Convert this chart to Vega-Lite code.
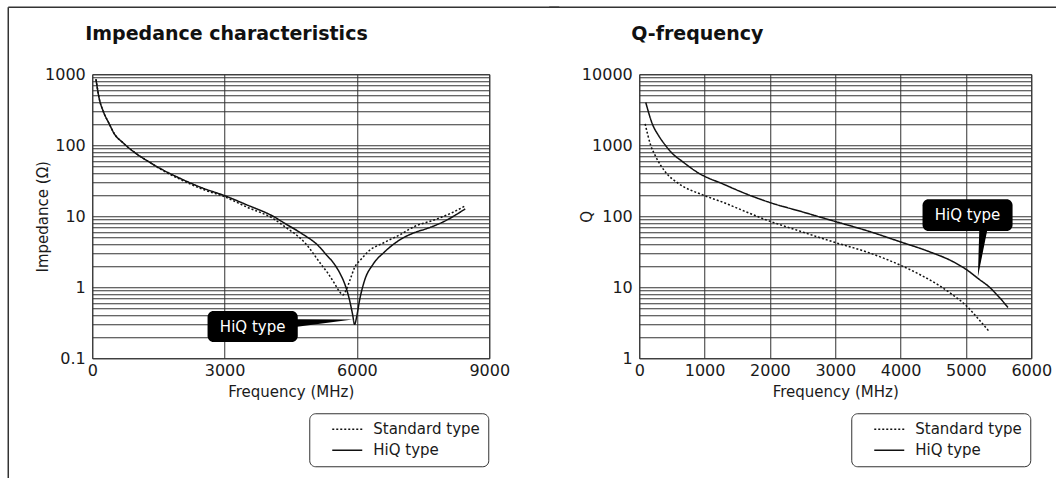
{
  "$schema": "https://vega.github.io/schema/vega-lite/v6.json",
  "background": "white",
  "padding": {"left": 6.25, "top": 5.25, "right": 0, "bottom": 0},
  "bounds": "flush",
  "spacing": 150,
  "datasets": {
    "imp": [
      {"f": 85, "z": 850, "type": "HiQ type"},
      {"f": 150, "z": 480, "type": "HiQ type"},
      {"f": 250, "z": 300, "type": "HiQ type"},
      {"f": 386, "z": 200, "type": "HiQ type"},
      {"f": 500, "z": 145, "type": "HiQ type"},
      {"f": 700, "z": 108, "type": "HiQ type"},
      {"f": 916, "z": 83, "type": "HiQ type"},
      {"f": 1333, "z": 56, "type": "HiQ type"},
      {"f": 1600, "z": 45, "type": "HiQ type"},
      {"f": 2000, "z": 34, "type": "HiQ type"},
      {"f": 2500, "z": 25, "type": "HiQ type"},
      {"f": 3000, "z": 19.5, "type": "HiQ type"},
      {"f": 3500, "z": 14.5, "type": "HiQ type"},
      {"f": 4098, "z": 10, "type": "HiQ type"},
      {"f": 4356, "z": 8.0, "type": "HiQ type"},
      {"f": 4750, "z": 5.7, "type": "HiQ type"},
      {"f": 5114, "z": 3.9, "type": "HiQ type"},
      {"f": 5300, "z": 2.9, "type": "HiQ type"},
      {"f": 5492, "z": 2.1, "type": "HiQ type"},
      {"f": 5620, "z": 1.55, "type": "HiQ type"},
      {"f": 5720, "z": 1.13, "type": "HiQ type"},
      {"f": 5833, "z": 0.66, "type": "HiQ type"},
      {"f": 5900, "z": 0.42, "type": "HiQ type"},
      {"f": 5947, "z": 0.3, "type": "HiQ type"},
      {"f": 6000, "z": 0.4, "type": "HiQ type"},
      {"f": 6061, "z": 0.66, "type": "HiQ type"},
      {"f": 6174, "z": 1.25, "type": "HiQ type"},
      {"f": 6364, "z": 2.1, "type": "HiQ type"},
      {"f": 6629, "z": 3.16, "type": "HiQ type"},
      {"f": 7008, "z": 4.8, "type": "HiQ type"},
      {"f": 7311, "z": 5.9, "type": "HiQ type"},
      {"f": 7584, "z": 6.7, "type": "HiQ type"},
      {"f": 8000, "z": 8.6, "type": "HiQ type"},
      {"f": 8455, "z": 12.7, "type": "HiQ type"},
      {"f": 85, "z": 850, "type": "Standard type"},
      {"f": 150, "z": 480, "type": "Standard type"},
      {"f": 250, "z": 300, "type": "Standard type"},
      {"f": 386, "z": 200, "type": "Standard type"},
      {"f": 500, "z": 145, "type": "Standard type"},
      {"f": 700, "z": 108, "type": "Standard type"},
      {"f": 916, "z": 83, "type": "Standard type"},
      {"f": 1333, "z": 56, "type": "Standard type"},
      {"f": 1600, "z": 44, "type": "Standard type"},
      {"f": 2000, "z": 33, "type": "Standard type"},
      {"f": 2500, "z": 24, "type": "Standard type"},
      {"f": 3000, "z": 18.8, "type": "Standard type"},
      {"f": 3500, "z": 13.5, "type": "Standard type"},
      {"f": 4098, "z": 9.3, "type": "Standard type"},
      {"f": 4356, "z": 7.2, "type": "Standard type"},
      {"f": 4811, "z": 4.3, "type": "Standard type"},
      {"f": 5189, "z": 2.1, "type": "Standard type"},
      {"f": 5350, "z": 1.55, "type": "Standard type"},
      {"f": 5492, "z": 1.13, "type": "Standard type"},
      {"f": 5600, "z": 0.88, "type": "Standard type"},
      {"f": 5682, "z": 0.78, "type": "Standard type"},
      {"f": 5758, "z": 0.92, "type": "Standard type"},
      {"f": 5850, "z": 1.3, "type": "Standard type"},
      {"f": 5947, "z": 1.89, "type": "Standard type"},
      {"f": 6100, "z": 2.5, "type": "Standard type"},
      {"f": 6250, "z": 3.16, "type": "Standard type"},
      {"f": 6629, "z": 4.3, "type": "Standard type"},
      {"f": 6977, "z": 5.5, "type": "Standard type"},
      {"f": 7311, "z": 7.2, "type": "Standard type"},
      {"f": 7735, "z": 8.8, "type": "Standard type"},
      {"f": 8100, "z": 10.8, "type": "Standard type"},
      {"f": 8455, "z": 14, "type": "Standard type"}
    ],
    "q": [
      {"f": 100, "q": 4000, "type": "HiQ type"},
      {"f": 200, "q": 2000, "type": "HiQ type"},
      {"f": 300, "q": 1350, "type": "HiQ type"},
      {"f": 400, "q": 1000, "type": "HiQ type"},
      {"f": 510, "q": 760, "type": "HiQ type"},
      {"f": 650, "q": 600, "type": "HiQ type"},
      {"f": 900, "q": 410, "type": "HiQ type"},
      {"f": 1300, "q": 280, "type": "HiQ type"},
      {"f": 1634, "q": 207, "type": "HiQ type"},
      {"f": 1992, "q": 157, "type": "HiQ type"},
      {"f": 2500, "q": 115, "type": "HiQ type"},
      {"f": 2988, "q": 85, "type": "HiQ type"},
      {"f": 3500, "q": 62, "type": "HiQ type"},
      {"f": 3984, "q": 44, "type": "HiQ type"},
      {"f": 4443, "q": 31.6, "type": "HiQ type"},
      {"f": 4800, "q": 23, "type": "HiQ type"},
      {"f": 5005, "q": 17.8, "type": "HiQ type"},
      {"f": 5200, "q": 13, "type": "HiQ type"},
      {"f": 5362, "q": 10, "type": "HiQ type"},
      {"f": 5500, "q": 7.4, "type": "HiQ type"},
      {"f": 5643, "q": 5.2, "type": "HiQ type"},
      {"f": 90, "q": 2000, "type": "Standard type"},
      {"f": 175, "q": 1000, "type": "Standard type"},
      {"f": 250, "q": 700, "type": "Standard type"},
      {"f": 400, "q": 420, "type": "Standard type"},
      {"f": 600, "q": 290, "type": "Standard type"},
      {"f": 970, "q": 200, "type": "Standard type"},
      {"f": 1300, "q": 155, "type": "Standard type"},
      {"f": 1500, "q": 130, "type": "Standard type"},
      {"f": 1941, "q": 89, "type": "Standard type"},
      {"f": 2500, "q": 60, "type": "Standard type"},
      {"f": 2988, "q": 43, "type": "Standard type"},
      {"f": 3500, "q": 31, "type": "Standard type"},
      {"f": 3984, "q": 20.7, "type": "Standard type"},
      {"f": 4300, "q": 15, "type": "Standard type"},
      {"f": 4596, "q": 10.5, "type": "Standard type"},
      {"f": 4800, "q": 7.8, "type": "Standard type"},
      {"f": 5005, "q": 5.5, "type": "Standard type"},
      {"f": 5200, "q": 3.5, "type": "Standard type"},
      {"f": 5362, "q": 2.34, "type": "Standard type"}
    ],
    "impNote": [{"f": 2614, "f2": 4659, "z": 0.17, "z2": 0.464, "tf": 3636, "tz": 0.28, "label": "HiQ type"}],
    "impPtr": [{"f": 4600, "lo": 0.276, "hi": 0.355}, {"f": 5900, "lo": 0.352, "hi": 0.352}],
    "qNote": [{"f": 4336, "f2": 5714, "q": 62, "q2": 174, "tf": 5025, "tq": 104, "label": "HiQ type"}],
    "qPtr": [{"q": 66, "f": 5205, "f2": 5330}, {"q": 14, "f": 5183, "f2": 5183}],
    "one": [{}]
  },
  "resolve": {
    "scale": {"x": "independent", "y": "independent", "strokeDash": "independent"},
    "legend": {"strokeDash": "independent"}
  },
  "hconcat": [
    {
      "width": 397,
      "height": 284,
      "title": {"text": "Impedance characteristics", "anchor": "start", "frame": "group", "dx": -7, "offset": -38},
      "layer": [
        {
          "data": {"name": "imp"},
          "mark": {"type": "line", "color": "#111", "strokeWidth": 1.5, "interpolate": "monotone"},
          "encoding": {
            "x": {
              "field": "f", "type": "quantitative",
              "scale": {"domain": [0, 9000], "nice": false, "zero": false},
              "axis": {"values": [0, 3000, 6000, 9000], "format": "d", "title": "Frequency (MHz)", "labelFlush": false}
            },
            "y": {
              "field": "z", "type": "quantitative",
              "scale": {"type": "log", "domain": [0.1, 1000], "nice": false},
              "axis": {
                "values": [0.1, 0.2, 0.3, 0.4, 0.5, 0.6, 0.7, 0.8, 0.9, 1, 2, 3, 4, 5, 6, 7, 8, 9, 10, 20, 30, 40, 50, 60, 70, 80, 90, 100, 200, 300, 400, 500, 600, 700, 800, 900, 1000],
                "labelExpr": "datum.value == 0.1 ? '0.1' : datum.value == 1 ? '1' : datum.value == 10 ? '10' : datum.value == 100 ? '100' : datum.value == 1000 ? '1000' : ''",
                "labelOverlap": false,
                "title": "Impedance (Ω)",
                "titleX": -49.5,
                "titleY": 142,
                "titleBaseline": "middle"
              }
            },
            "strokeDash": {
              "field": "type", "type": "nominal",
              "scale": {"domain": ["Standard type", "HiQ type"], "range": [[2, 2], [1, 0]]},
              "legend": {"orient": "none", "legendX": 217, "legendY": 339}
            }
          }
        },
        {
          "data": {"name": "impNote"},
          "mark": {"type": "rect", "color": "#000", "cornerRadius": 6},
          "encoding": {
            "x": {"field": "f", "type": "quantitative"},
            "x2": {"field": "f2"},
            "y": {"field": "z", "type": "quantitative"},
            "y2": {"field": "z2"}
          }
        },
        {
          "data": {"name": "impPtr"},
          "mark": {"type": "area", "color": "#000", "orient": "vertical"},
          "encoding": {
            "x": {"field": "f", "type": "quantitative"},
            "y": {"field": "lo", "type": "quantitative"},
            "y2": {"field": "hi"}
          }
        },
        {
          "data": {"name": "impNote"},
          "mark": {"type": "text", "color": "white", "fontSize": 15, "font": "DejaVu Sans", "align": "center", "baseline": "middle"},
          "encoding": {
            "x": {"field": "tf", "type": "quantitative"},
            "y": {"field": "tz", "type": "quantitative"},
            "text": {"field": "label"}
          }
        },
        {
          "data": {"name": "one"},
          "mark": {"type": "rule", "color": "#333", "strokeWidth": 1.5},
          "encoding": {
            "x": {"datum": -1904, "type": "quantitative"},
            "y": {"datum": 8785, "type": "quantitative"},
            "y2": {"datum": 0.0014}
          }
        },
        {
          "data": {"name": "one"},
          "mark": {"type": "rule", "color": "#333", "strokeWidth": 1.5},
          "encoding": {
            "x": {"datum": -1904, "type": "quantitative"},
            "x2": {"datum": 10587},
            "y": {"datum": 8785, "type": "quantitative"}
          }
        }
      ]
    },
    {
      "width": 392,
      "height": 284,
      "title": {"text": "Q-frequency", "anchor": "start", "frame": "group", "dx": -8, "offset": -38},
      "layer": [
        {
          "data": {"name": "q"},
          "mark": {"type": "line", "color": "#111", "strokeWidth": 1.5, "interpolate": "monotone"},
          "encoding": {
            "x": {
              "field": "f", "type": "quantitative",
              "scale": {"domain": [0, 6000], "nice": false, "zero": false},
              "axis": {"values": [0, 1000, 2000, 3000, 4000, 5000, 6000], "format": "d", "title": "Frequency (MHz)", "labelFlush": false}
            },
            "y": {
              "field": "q", "type": "quantitative",
              "scale": {"type": "log", "domain": [1, 10000], "nice": false},
              "axis": {
                "values": [1, 2, 3, 4, 5, 6, 7, 8, 9, 10, 20, 30, 40, 50, 60, 70, 80, 90, 100, 200, 300, 400, 500, 600, 700, 800, 900, 1000, 2000, 3000, 4000, 5000, 6000, 7000, 8000, 9000, 10000],
                "labelExpr": "datum.value == 1 ? '1' : datum.value == 10 ? '10' : datum.value == 100 ? '100' : datum.value == 1000 ? '1000' : datum.value == 10000 ? '10000' : ''",
                "labelOverlap": false,
                "title": "Q",
                "titleX": -53,
                "titleY": 142,
                "titleBaseline": "middle"
              }
            },
            "strokeDash": {
              "field": "type", "type": "nominal",
              "scale": {"domain": ["Standard type", "HiQ type"], "range": [[2, 2], [1, 0]]},
              "legend": {"orient": "none", "legendX": 212, "legendY": 339}
            }
          }
        },
        {
          "data": {"name": "qNote"},
          "mark": {"type": "rect", "color": "#000", "cornerRadius": 6},
          "encoding": {
            "x": {"field": "f", "type": "quantitative"},
            "x2": {"field": "f2"},
            "y": {"field": "q", "type": "quantitative"},
            "y2": {"field": "q2"}
          }
        },
        {
          "data": {"name": "qPtr"},
          "mark": {"type": "area", "color": "#000", "orient": "horizontal"},
          "encoding": {
            "y": {"field": "q", "type": "quantitative"},
            "x": {"field": "f", "type": "quantitative"},
            "x2": {"field": "f2"}
          }
        },
        {
          "data": {"name": "qNote"},
          "mark": {"type": "text", "color": "white", "fontSize": 15, "font": "DejaVu Sans", "align": "center", "baseline": "middle"},
          "encoding": {
            "x": {"field": "tf", "type": "quantitative"},
            "y": {"field": "tq", "type": "quantitative"},
            "text": {"field": "label"}
          }
        },
        {
          "data": {"name": "one"},
          "mark": {"type": "rule", "color": "#333", "strokeWidth": 1.5},
          "encoding": {
            "x": {"datum": -1378, "type": "quantitative"},
            "x2": {"datum": 6582},
            "y": {"datum": 87850, "type": "quantitative"}
          }
        }
      ]
    }
  ],
  "config": {
    "font": "DejaVu Sans",
    "view": {"stroke": "#333", "strokeWidth": 1},
    "title": {"font": "DejaVu Sans", "fontSize": 19, "fontWeight": "bold", "color": "#111"},
    "axis": {
      "grid": true,
      "gridColor": "#333",
      "gridWidth": 1,
      "gridOpacity": 1,
      "ticks": false,
      "domain": false,
      "labelFont": "DejaVu Sans",
      "labelFontSize": 16,
      "labelColor": "#1a1a1a",
      "titleFont": "DejaVu Sans",
      "titleFontSize": 15,
      "titleFontWeight": "normal",
      "titleColor": "#1a1a1a"
    },
    "axisX": {"labelPadding": 4, "titlePadding": 6},
    "axisY": {"labelPadding": 7},
    "legend": {
      "title": null,
      "strokeColor": "#333",
      "cornerRadius": 6,
      "padding": 8,
      "fillColor": "white",
      "symbolType": "stroke",
      "symbolSize": 900,
      "symbolStrokeWidth": 1.5,
      "symbolStrokeColor": "#111",
      "symbolOffset": 14,
      "labelOffset": 10,
      "labelFont": "DejaVu Sans",
      "labelFontSize": 15,
      "labelColor": "#1a1a1a",
      "clipHeight": 16,
      "rowPadding": 5
    }
  }
}
